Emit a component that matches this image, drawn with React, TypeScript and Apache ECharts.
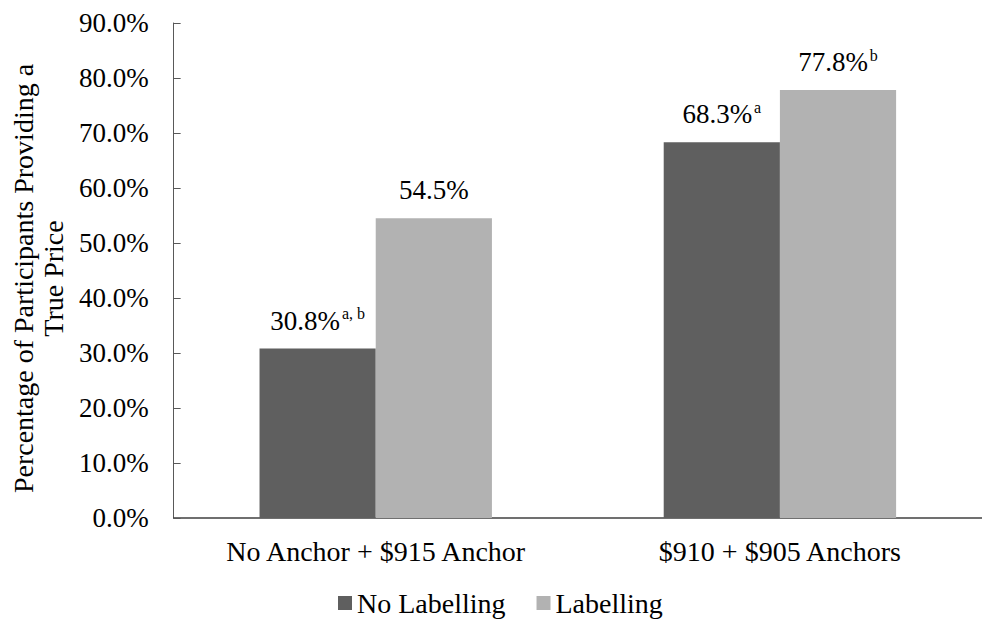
import React, { useEffect, useRef } from "react";
import * as echarts from "echarts";

const categories = ["No Anchor + $915 Anchor", "$910 + $905 Anchors"];
const seriesNames = ["No Labelling", "Labelling"];
const noLabellingValues = [30.8, 68.3];
const labellingValues = [54.5, 77.8];
const noLabellingSup = ["a, b", "a"];
const labellingSup = ["", "b"];
const yTicks = { min: 0, max: 90, interval: 10 };

const FONT = "Liberation Serif";
const FS = 27;
const FS_L = 28;

export default function App() {
  const ref = useRef<HTMLDivElement>(null);
  useEffect(() => {
    if (!ref.current) return;
    const chart = echarts.init(ref.current, null, { renderer: "svg" });
    const mkLabel = (sups: string[]) => ({
      show: true,
      position: "top",
      distance: 13,
      fontFamily: FONT,
      formatter: (p: any) => {
        const s = sups[p.dataIndex];
        const v = `${Number(p.value).toFixed(1)}%`;
        return s ? `{v|${v}}{s|${s}}` : `{v|${v}}`;
      },
      rich: {
        v: { fontSize: FS, fontFamily: FONT, color: "#000", lineHeight: 30 },
        s: { fontSize: 16, fontFamily: FONT, color: "#000", verticalAlign: "top", lineHeight: 30, padding: [0, 0, 0, 2] },
      },
    });
    chart.setOption({
      animation: false,
      textStyle: { fontFamily: FONT },
      grid: { left: 172, top: 23, bottom: 102, right: -13, containLabel: false },
      legend: {
        data: seriesNames,
        left: 338,
        top: 589,
        padding: 0,
        icon: "rect",
        itemWidth: 14,
        itemHeight: 14,
        itemGap: 31,
        textStyle: { fontSize: FS_L, fontFamily: FONT, color: "#000" },
      },
      xAxis: {
        type: "category",
        data: categories,
        axisTick: { show: false },
        axisLine: { lineStyle: { color: "#404040", width: 1.5 } },
        axisLabel: { fontSize: FS_L, fontFamily: FONT, color: "#000", margin: 19 },
      },
      yAxis: {
        type: "value",
        min: yTicks.min,
        max: yTicks.max,
        interval: yTicks.interval,
        name: "Percentage of Participants Providing a\nTrue Price",
        nameLocation: "middle",
        nameRotate: 90,
        nameGap: 105,
        nameTextStyle: { fontSize: FS_L, fontFamily: FONT, color: "#000", lineHeight: 30, padding: [0, 16, 0, 0] },
        splitLine: { show: false },
        axisLine: { show: true, lineStyle: { color: "#595959", width: 1 } },
        axisTick: { show: true, inside: true, length: 7, lineStyle: { color: "#595959" } },
        axisLabel: {
          fontSize: FS,
          fontFamily: FONT,
          color: "#000",
          margin: 25,
          formatter: (v: number) => `${v.toFixed(1)}%`,
        },
      },
      series: [
        {
          name: seriesNames[0],
          type: "bar",
          data: noLabellingValues,
          barGap: "0%",
          barCategoryGap: "42.5%",
          itemStyle: { color: "#5f5f5f" },
          label: mkLabel(noLabellingSup),
        },
        {
          name: seriesNames[1],
          type: "bar",
          data: labellingValues,
          barGap: "0%",
          barCategoryGap: "42.5%",
          itemStyle: { color: "#b2b2b2" },
          label: mkLabel(labellingSup),
        },
      ],
    });
    return () => chart.dispose();
  }, []);
  return (
    <div
      ref={ref}
      style={{ position: "fixed", left: 0, top: 0, width: 982, height: 620, background: "#fff" }}
    />
  );
}
